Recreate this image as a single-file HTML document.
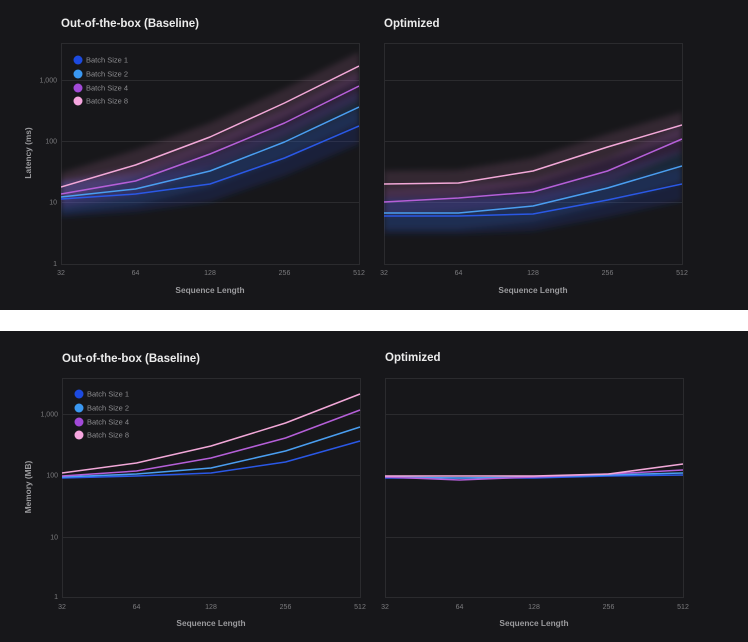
<!DOCTYPE html>
<html><head><meta charset="utf-8"><style>
html,body{margin:0;padding:0;background:#fff;}
svg{display:block;}
text{font-family:"Liberation Sans",Arial,sans-serif;}
.t{fill:#ececec;font-size:11.5px;font-weight:bold;}
.tk{fill:#7b7b7e;font-size:7px;}
.ax{fill:#9a9a9d;font-size:8.3px;font-weight:bold;}
.lg{fill:#8d8d90;font-size:7.5px;}
.g{stroke:#2b2b2e;stroke-width:1;fill:none;}
.ln{fill:none;stroke-width:1.5;stroke-linejoin:round;}
</style></head><body>
<svg width="748" height="642" viewBox="0 0 748 642" xmlns="http://www.w3.org/2000/svg">
<defs>
<filter id="bl" x="-10%" y="-30%" width="120%" height="160%"><feGaussianBlur stdDeviation="3"/></filter>
<clipPath id="c1"><rect x="61" y="43" width="298" height="221"/></clipPath>
<clipPath id="c2"><rect x="384" y="43" width="298" height="221"/></clipPath>
</defs>
<rect x="0" y="0" width="748" height="310" fill="#17171a"/>
<rect x="0" y="331" width="748" height="311" fill="#17171a"/>

<!-- ===== TOP LEFT ===== -->
<text class="t" x="61" y="27">Out-of-the-box (Baseline)</text>
<rect class="g" x="61.5" y="43.5" width="298" height="221"/>
<line class="g" x1="61" y1="80.5" x2="359" y2="80.5"/>
<line class="g" x1="61" y1="141.5" x2="359" y2="141.5"/>
<line class="g" x1="61" y1="202.5" x2="359" y2="202.5"/>
<g class="tk" text-anchor="end">
<text x="57" y="82.5">1,000</text><text x="57" y="143.5">100</text><text x="57" y="204.5">10</text><text x="57" y="266">1</text>
</g>
<g class="tk" text-anchor="middle">
<text x="61" y="275">32</text><text x="135.5" y="275">64</text><text x="210" y="275">128</text><text x="284.5" y="275">256</text><text x="359" y="275">512</text>
</g>
<text class="ax" x="210" y="293" text-anchor="middle">Sequence Length</text>
<text class="ax" transform="translate(31,153) rotate(-90)" text-anchor="middle">Latency (ms)</text>
<g clip-path="url(#c1)">
<g filter="url(#bl)">
<polygon fill="#2a4ad8" fill-opacity="0.17" points="61,182 135.5,177 210,167 284.5,141 359,109 359,144 284.5,176 210,202 135.5,212 61,217"/>
<polygon fill="#3a8ae8" fill-opacity="0.14" points="61,181 135.5,173 210,155 284.5,126 359,91 359,123 284.5,158 210,187 135.5,205 61,213"/>
<polygon fill="#a04ad0" fill-opacity="0.16" points="61,180 135.5,167 210,140 284.5,109 359,72 359,100 284.5,137 210,168 135.5,195 61,208"/>
<polygon fill="#e090c8" fill-opacity="0.14" points="61,173 135.5,150 210,123 284.5,89 359,52 359,80 284.5,117 210,151 135.5,178 61,201"/>
</g>
<polyline class="ln" stroke="#2a58e6" points="61,199 135.5,194 210,184 284.5,158 359,126"/>
<polyline class="ln" stroke="#4a9ef0" points="61,197 135.5,189 210,171 284.5,142 359,107"/>
<polyline class="ln" stroke="#b55fd8" points="61,194 135.5,181 210,154 284.5,123 359,86"/>
<polyline class="ln" stroke="#f2a8d8" points="61,187 135.5,165 210,137 284.5,103 359,66"/>
</g>
<g class="lg">
<circle cx="78" cy="60" r="4.5" fill="#1c4ae0"/><text x="86" y="62.7">Batch Size 1</text>
<circle cx="78" cy="74" r="4.5" fill="#3a98f2"/><text x="86" y="76.7">Batch Size 2</text>
<circle cx="78" cy="88" r="4.5" fill="#a24ad8"/><text x="86" y="90.7">Batch Size 4</text>
<circle cx="78" cy="101" r="4.5" fill="#f6a6df"/><text x="86" y="103.7">Batch Size 8</text>
</g>

<!-- ===== TOP RIGHT ===== -->
<text class="t" x="384" y="27">Optimized</text>
<rect class="g" x="384.5" y="43.5" width="298" height="221"/>
<line class="g" x1="384" y1="80.5" x2="682" y2="80.5"/>
<line class="g" x1="384" y1="141.5" x2="682" y2="141.5"/>
<line class="g" x1="384" y1="202.5" x2="682" y2="202.5"/>
<g class="tk" text-anchor="middle">
<text x="384" y="275">32</text><text x="458.5" y="275">64</text><text x="533" y="275">128</text><text x="607.5" y="275">256</text><text x="682" y="275">512</text>
</g>
<text class="ax" x="533" y="293" text-anchor="middle">Sequence Length</text>
<g clip-path="url(#c2)">
<g filter="url(#bl)">
<polygon fill="#2a4ad8" fill-opacity="0.17" points="384,199 458.5,199 533,197 607.5,183 682,167 682,201 607.5,217 533,231 458.5,234 384,234"/>
<polygon fill="#3a8ae8" fill-opacity="0.14" points="384,197 458.5,197 533,190 607.5,172 682,150 682,182 607.5,204 533,222 458.5,229 384,229"/>
<polygon fill="#a04ad0" fill-opacity="0.16" points="384,189 458.5,185 533,179 607.5,158 682,126 682,152 607.5,184 533,205 458.5,211 384,215"/>
<polygon fill="#e090c8" fill-opacity="0.14" points="384,171 458.5,170 533,158 607.5,134 682,112 682,138 607.5,160 533,184 458.5,196 384,197"/>
</g>
<polyline class="ln" stroke="#2a58e6" points="384,216 458.5,216 533,214 607.5,200 682,184"/>
<polyline class="ln" stroke="#4a9ef0" points="384,213 458.5,213 533,206 607.5,188 682,166"/>
<polyline class="ln" stroke="#b55fd8" points="384,202 458.5,198 533,192 607.5,171 682,139"/>
<polyline class="ln" stroke="#f2a8d8" points="384,184 458.5,183 533,171 607.5,147 682,125"/>
</g>

<!-- ===== BOTTOM LEFT ===== -->
<text class="t" x="62" y="362">Out-of-the-box (Baseline)</text>
<rect class="g" x="62.5" y="378.5" width="298" height="219"/>
<line class="g" x1="62" y1="414.5" x2="360" y2="414.5"/>
<line class="g" x1="62" y1="475.5" x2="360" y2="475.5"/>
<line class="g" x1="62" y1="537.5" x2="360" y2="537.5"/>
<g class="tk" text-anchor="end">
<text x="58" y="416.5">1,000</text><text x="58" y="477.5">100</text><text x="58" y="539.5">10</text><text x="58" y="599">1</text>
</g>
<g class="tk" text-anchor="middle">
<text x="62" y="609">32</text><text x="136.5" y="609">64</text><text x="211" y="609">128</text><text x="285.5" y="609">256</text><text x="360" y="609">512</text>
</g>
<text class="ax" x="211" y="626" text-anchor="middle">Sequence Length</text>
<text class="ax" transform="translate(31,487) rotate(-90)" text-anchor="middle">Memory (MB)</text>
<polyline class="ln" stroke="#2a58e6" points="62,478 136.5,476 211,473 285.5,462 360,441"/>
<polyline class="ln" stroke="#4a9ef0" points="62,477 136.5,474 211,468 285.5,451 360,427"/>
<polyline class="ln" stroke="#b55fd8" points="62,476 136.5,471 211,458 285.5,438 360,410"/>
<polyline class="ln" stroke="#f2a8d8" points="62,473 136.5,463 211,446 285.5,423 360,394"/>
<g class="lg">
<circle cx="79" cy="394" r="4.5" fill="#1c4ae0"/><text x="87" y="396.7">Batch Size 1</text>
<circle cx="79" cy="408" r="4.5" fill="#3a98f2"/><text x="87" y="410.7">Batch Size 2</text>
<circle cx="79" cy="422" r="4.5" fill="#a24ad8"/><text x="87" y="424.7">Batch Size 4</text>
<circle cx="79" cy="435" r="4.5" fill="#f6a6df"/><text x="87" y="437.7">Batch Size 8</text>
</g>

<!-- ===== BOTTOM RIGHT ===== -->
<text class="t" x="385" y="361">Optimized</text>
<rect class="g" x="385.5" y="378.5" width="298" height="219"/>
<line class="g" x1="385" y1="414.5" x2="683" y2="414.5"/>
<line class="g" x1="385" y1="475.5" x2="683" y2="475.5"/>
<line class="g" x1="385" y1="537.5" x2="683" y2="537.5"/>
<g class="tk" text-anchor="middle">
<text x="385" y="609">32</text><text x="459.5" y="609">64</text><text x="534" y="609">128</text><text x="608.5" y="609">256</text><text x="683" y="609">512</text>
</g>
<text class="ax" x="534" y="626" text-anchor="middle">Sequence Length</text>
<polyline class="ln" stroke="#2a58e6" points="385,478 459.5,478 534,478 608.5,476 683,475"/>
<polyline class="ln" stroke="#4a9ef0" points="385,477 459.5,478 534,477 608.5,475 683,473"/>
<polyline class="ln" stroke="#b55fd8" points="385,477 459.5,480 534,477 608.5,474 683,470"/>
<polyline class="ln" stroke="#f2a8d8" points="385,476 459.5,476 534,476 608.5,474 683,464"/>
</svg>
</body></html>
